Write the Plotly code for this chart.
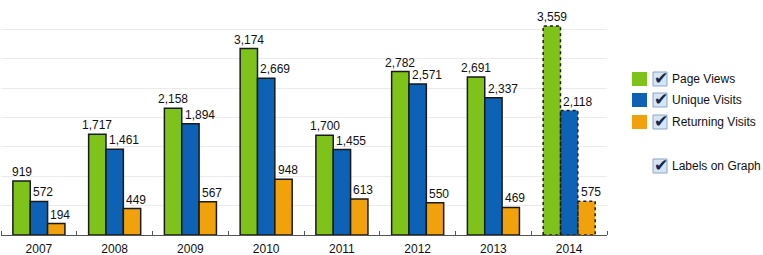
import plotly.graph_objects as go

years = [2007, 2008, 2009, 2010, 2011, 2012, 2013, 2014]
year_labels = ["2007", "2008", "2009", "2010", "2011", "2012", "2013", "2014"]
page_views = [919, 1717, 2158, 3174, 1700, 2782, 2691, 3559]
unique_visits = [572, 1461, 1894, 2669, 1455, 2571, 2337, 2118]
returning_visits = [194, 449, 567, 948, 613, 550, 469, 575]
series_names = ["Page Views", "Unique Visits", "Returning Visits"]
series_values = [page_views, unique_visits, returning_visits]
colors = ["#7fc31a", "#0d62b6", "#f1a10c"]
projected_year = 2014

W, H = 763, 255
ML, MR, MT, MB = 1, 156, 0, 20
PW, PH = W - ML - MR, H - MT - MB

bar_w = 0.229
offsets = [-0.343, -0.114, 0.115]
label_anchor = ["center", "left", "left"]
FONT = "Liberation Sans, Arial, Helvetica, sans-serif"

fig = go.Figure()
shapes = []
annotations = []

for i, (name, vals) in enumerate(zip(series_names, series_values)):
    lw = [0 if y == projected_year else 1.5 for y in years]
    fig.add_trace(go.Bar(
        x=years, y=vals, name=name, width=bar_w, offset=offsets[i],
        marker=dict(color=colors[i], line=dict(color="#1a1a1a", width=lw)),
        showlegend=False, hoverinfo="x+y",
    ))
    for y, v in zip(years, vals):
        left = y + offsets[i]
        if y == projected_year:
            shapes.append(dict(type="rect", xref="x", yref="y", x0=left, x1=left + bar_w,
                               y0=0, y1=v, line=dict(color="#1a1a1a", width=1.5, dash="dot"),
                               fillcolor="rgba(0,0,0,0)", layer="above"))
        ax = left + bar_w / 2 if label_anchor[i] == "center" else left + 0.01
        annotations.append(dict(x=ax, y=v, xref="x", yref="y", text=f"{v:,}",
                                showarrow=False, xanchor=label_anchor[i], yanchor="bottom",
                                font=dict(family=FONT, size=12, color="#111"), yshift=0))


def px(x):
    return (x - ML) / PW


def py(y):
    return (H - MB - y) / PH


def checkbox(cx, cy):
    shapes.append(dict(type="rect", xref="paper", yref="paper",
                       x0=px(cx - 7), x1=px(cx + 7), y0=py(cy + 7), y1=py(cy - 7),
                       fillcolor="#d5e5f5", line=dict(color="#8ea6c4", width=1)))
    annotations.append(dict(x=px(cx + 1), y=py(cy - 1), xref="paper", yref="paper", text="✔",
                            showarrow=False, xanchor="center", yanchor="middle",
                            font=dict(family="DejaVu Sans", size=17, color="#15254f")))


# legend (manual, with checkboxes)
rows_y = [79, 100, 122]
for i, name in enumerate(series_names):
    cy = rows_y[i]
    shapes.append(dict(type="rect", xref="paper", yref="paper",
                       x0=px(632), x1=px(647), y0=py(cy + 7), y1=py(cy - 7),
                       fillcolor=colors[i], line=dict(width=0)))
    checkbox(660, cy)
    annotations.append(dict(x=px(670), y=py(cy), xref="paper", yref="paper", text=name,
                            showarrow=False, xanchor="left", yanchor="middle",
                            font=dict(family=FONT, size=12, color="#111")))

cy = 166
checkbox(660, cy)
annotations.append(dict(x=px(670), y=py(cy), xref="paper", yref="paper", text="Labels on Graph",
                        showarrow=False, xanchor="left", yanchor="middle",
                        font=dict(family=FONT, size=12, color="#111")))

fig.update_layout(
    width=W, height=H,
    margin=dict(l=ML, r=MR, t=MT, b=MB, pad=0),
    paper_bgcolor="white", plot_bgcolor="white",
    barmode="overlay",
    shapes=shapes, annotations=annotations,
    font=dict(family=FONT, size=12, color="#111"),
    xaxis=dict(range=[years[0] - 0.5, years[-1] + 0.5], tickmode="array",
               tickvals=years, ticktext=year_labels, ticks="", showgrid=False,
               showline=True, linecolor="#555", linewidth=1, zeroline=False,
               ticklabelstandoff=3,
               tickfont=dict(family=FONT, size=12, color="#111"),
               minor=dict(tickmode="array", tickvals=[y + 0.5 for y in years[:-1]] + [years[0] - 0.5, years[-1] + 0.5],
                          ticks="inside", ticklen=4, tickcolor="#555", showgrid=False)),
    yaxis=dict(range=[0, 4000], dtick=500, showticklabels=False, showgrid=True,
               gridcolor="#ebebeb", gridwidth=1, zeroline=False, ticks=""),
)

fig.write_html("out.html", config={"displayModeBar": False},
               post_script="document.body.style.margin='0';document.body.style.overflow='hidden';")
